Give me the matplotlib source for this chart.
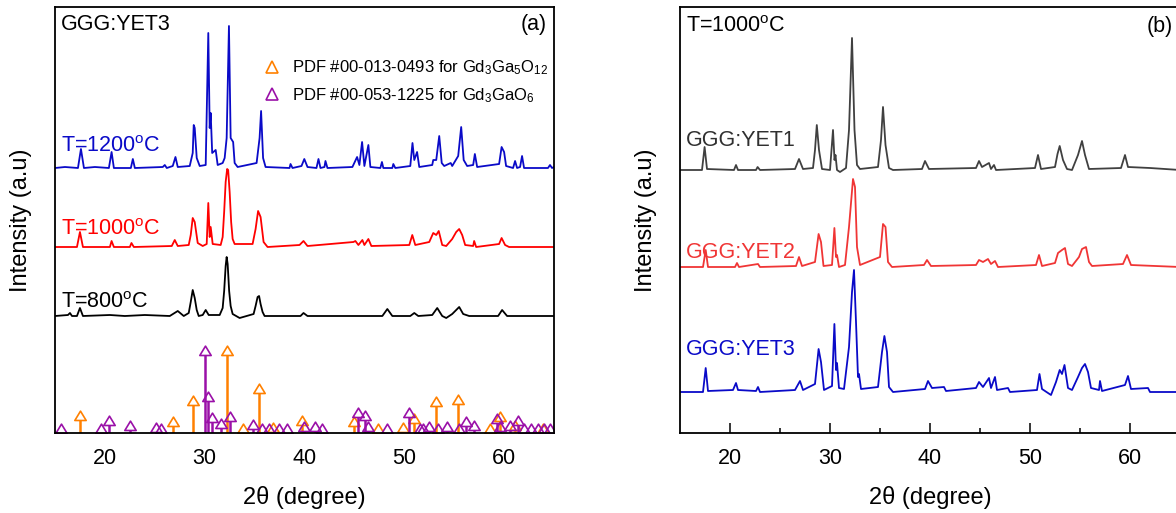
import numpy as np
import matplotlib
matplotlib.use("Agg")
import matplotlib.pyplot as plt
from matplotlib.path import Path
from matplotlib.lines import Line2D

plt.rcParams['font.family'] = ['Liberation Sans', 'DejaVu Sans']
plt.rcParams['mathtext.fontset'] = 'custom'
plt.rcParams['mathtext.rm'] = 'Liberation Sans'
plt.rcParams['mathtext.it'] = 'Liberation Sans:italic'

# ---- panel (a): GGG:YET3 at three temperatures (intensity above each baseline) ----
t1200_x = [15.0, 16.0, 17.3, 17.6, 17.9, 19.0, 20.4, 20.67, 20.9, 22.6, 22.8, 23.0, 25.8, 26.0, 26.2,
           26.8, 27.07, 27.3, 28.5, 28.8, 28.9, 29.0, 29.2, 29.5, 30.1, 30.36, 30.5, 30.6, 30.75, 31.1,
           31.3, 31.8, 32.0, 32.2, 32.43, 32.6, 32.85, 33.0, 33.3, 35.2, 35.5, 35.65, 35.85, 36.1, 38.5,
           38.6, 38.8, 39.7, 39.98, 40.3, 41.2, 41.4, 41.6, 42.0, 42.1, 42.3, 44.8, 45.27, 45.5, 45.77,
           46.0, 46.4, 46.6, 47.6, 47.76, 47.9, 48.8, 48.9, 49.1, 50.6, 50.82, 51.0, 51.28, 51.5, 52.8,
           52.9, 53.2, 53.5, 53.75, 54.0, 54.65, 54.8, 55.4, 55.7, 55.95, 56.3, 56.9, 57.07, 57.3, 59.5,
           59.75, 60.0, 60.2, 60.9, 61.1, 61.3, 61.6, 61.8, 62.0, 64.4, 64.6, 64.8, 65.0]
t1200_y = [0, 1, 0, 19, 0, 1, 0, 16, 0, 0, 9, 0, 1, 3, 0,
           2, 11, 1, 2, 15, 43, 40, 10, 2, 3, 135, 40, 55, 15, 18,
           3, 5, 10, 30, 142, 30, 26, 5, 1, 5, 30, 57, 10, 1, 0,
           4, 0, 2, 9, 1, 0, 9, 0, 1, 7, 0, 1, 11, 3, 26,
           2, 23, 1, 0, 6, 0, 0, 4, 0, 2, 25, 8, 16, 1, 3,
           8, 8, 32, 5, 2, 5, 2, 12, 41, 8, 2, 3, 14, 1, 4,
           21, 16, 2, 0, 7, 0, 1, 12, 0, 0, 3, 0, 1]

t1000_x = [15.0, 17.2, 17.5, 17.8, 20.5, 20.67, 20.9, 22.5, 22.66, 22.9, 26.7, 27.0, 27.3, 28.4, 28.6,
           28.8, 29.0, 29.3, 29.8, 30.2, 30.36, 30.5, 30.6, 30.8, 31.6, 31.8, 31.95, 32.1, 32.25, 32.35,
           32.5, 32.65, 32.8, 33.0, 34.8, 35.1, 35.35, 35.6, 35.9, 36.3, 39.5, 39.9, 40.3, 44.9, 45.1,
           45.4, 45.8, 46.0, 46.4, 46.7, 50.5, 50.8, 51.1, 52.5, 52.9, 53.2, 53.45, 53.8, 54.2, 54.8,
           55.2, 55.5, 55.8, 56.1, 56.9, 57.0, 57.2, 59.5, 59.75, 60.1, 60.5, 65.0]
t1000_y = [0, 0, 15, 0, 0, 6, 0, 0, 4, 0, 1, 7, 1, 2, 12,
           29, 25, 4, 1, 3, 44, 10, 20, 3, 2, 10, 35, 65, 78, 77,
           55, 25, 8, 3, 3, 18, 36, 30, 5, 0, 2, 6, 1, 5, 6,
           2, 7, 2, 8, 1, 2, 12, 2, 5, 14, 12, 16, 2, 1, 8,
           15, 18, 12, 2, 1, 6, 0, 3, 9, 2, 0, 0]

t800_x = [15.0, 16.3, 16.5, 16.7, 17.2, 17.5, 17.8, 20.5, 22.0, 24.0, 26.5, 27.3, 27.9, 28.4, 28.6,
          28.8, 29.0, 29.2, 29.4, 29.8, 30.1, 30.4, 31.5, 31.8, 31.95, 32.1, 32.2, 32.3, 32.45, 32.6,
          32.8, 33.5, 34.9, 35.1, 35.3, 35.45, 35.6, 35.8, 36.0, 39.6, 39.9, 40.3, 47.8, 48.3, 48.8,
          50.6, 51.0, 51.4, 52.8, 53.3, 53.8, 54.2, 54.8, 55.3, 55.5, 55.9, 56.5, 59.4, 59.8, 60.3,
          65.0]
t800_y = [0, 1, 3, 0, 0, 8, 0, 1, 0, 1, 0, 5, 0, 3, 14,
          26, 18, 6, 0, 1, 6, 1, 1, 8, 25, 50, 59, 52, 25, 10,
          2, -2, 2, 10, 19, 20, 12, 4, 0, 0, 3, 0, 0, 7, 0,
          0, 3, 0, 1, 8, 0, -2, 2, 7, 9, 2, 0, 0, 6, 0,
          0]

# reference patterns (stick positions, stick heights)
ggg_pos = [17.5, 26.8, 28.8, 32.25, 33.85, 35.4, 36.8, 39.7, 45.0, 47.4, 49.9, 51.0, 53.2, 55.4,
           58.6, 59.6, 61.1, 63.85]
ggg_h = [13, 7, 28, 78, 0, 40, 1, 8, 7, 0, 1, 10, 27, 29.5, 0, 12, 3.5, 0]
gdo_pos = [15.6, 19.6, 20.4, 22.5, 25.15, 25.6, 30.06, 30.36, 30.75, 31.6, 32.5, 34.85, 35.7, 36.4,
           37.4, 38.25, 39.94, 41.05, 41.8, 45.4, 46.1, 46.4, 48.3, 50.44, 51.6, 51.9, 52.5, 53.36,
           54.25, 55.45, 56.2, 57.0, 59.25, 59.6, 60.6, 61.4, 62.0, 62.7, 63.4, 64.0, 64.6]
gdo_h = [0, 0, 8, 3.5, 1, 0, 78, 32, 11, 5.5, 12, 4, 0, 0,
         0, 0, 2.5, 2, 0, 16, 13.5, 2, 0, 16, 0, 0, 2, 0,
         2, 0, 7, 3.5, 10, 2, 3, 8, 0, 0, 0, 0, 0]

# ---- panel (b): three samples at 1000 C ----
yet1_x = [15.0, 17.2, 17.46, 17.7, 20.4, 20.6, 20.8, 22.6, 22.76, 23.0, 26.5, 26.9, 27.3, 28.3, 28.5,
          28.68, 28.9, 29.2, 30.0, 30.3, 30.45, 30.55, 30.7, 31.0, 31.6, 31.9, 32.2, 32.45, 32.7, 33.0,
          34.8, 35.1, 35.3, 35.55, 35.9, 36.3, 39.2, 39.5, 39.9, 44.6, 44.9, 45.2, 45.9, 46.1, 46.4,
          46.6, 50.5, 50.8, 51.1, 52.5, 52.75, 52.97, 53.3, 53.7, 54.2, 54.8, 55.2, 55.5, 55.9, 59.1,
          59.5, 59.8, 62.0, 65.0]
yet1_y = [0, 0, 23, 1, 0, 5, 0, 0, 3, 0, 1, 11, 1, 2, 20,
          45, 20, 1, 0, 40, 10, 15, 0, -2, 2, 40, 132, 40, 5, 1,
          3, 30, 63, 25, 2, 0, 1, 9, 1, 2, 9, 3, 7, 1, 5,
          0, 2, 15, 1, 3, 16, 24, 10, 1, 0, 15, 29, 15, 1, 2,
          15, 3, 2, 0]

yet2_x = [15.0, 17.3, 17.57, 17.8, 20.5, 20.7, 20.9, 22.8, 23.0, 26.6, 26.9, 27.2, 28.5, 28.86, 29.1,
          29.35, 30.2, 30.44, 30.6, 30.7, 30.9, 31.5, 31.9, 32.3, 32.5, 32.7, 33.0, 35.0, 35.3, 35.55,
          35.8, 36.2, 39.4, 39.7, 40.1, 44.6, 44.9, 45.3, 45.8, 46.1, 46.5, 46.8, 50.6, 50.9, 51.2,
          52.5, 52.8, 53.2, 53.5, 53.8, 54.2, 54.9, 55.2, 55.6, 55.9, 56.2, 59.3, 59.7, 60.1, 65.0]
yet2_y = [0, 0, 17, 0, 0, 4, 0, 3, 0, 1, 10, 1, 5, 33, 25,
          1, 2, 39, 10, 12, 0, 2, 40, 88, 80, 20, 2, 10, 43, 40,
          5, 0, 2, 7, 1, 2, 7, 5, 8, 3, 6, 0, 2, 12, 1,
          4, 14, 17, 19, 3, 1, 10, 18, 20, 5, 1, 3, 12, 2, 0]

yet3_x = [15.0, 17.3, 17.57, 17.8, 20.3, 20.6, 20.8, 22.6, 22.8, 23.0, 26.5, 27.0, 27.3, 28.5, 28.86,
          29.1, 29.4, 30.2, 30.44, 30.6, 30.7, 30.9, 31.4, 31.9, 32.2, 32.4, 32.6, 32.8, 32.9, 33.1,
          34.8, 35.2, 35.44, 35.7, 35.9, 36.3, 39.5, 39.8, 40.2, 41.4, 41.6, 44.6, 44.9, 45.3, 45.9,
          46.1, 46.5, 46.7, 47.8, 48.0, 50.7, 50.95, 51.2, 52.1, 52.6, 52.97, 53.2, 53.45, 53.8, 54.2,
          54.8, 55.2, 55.5, 55.8, 56.1, 56.9, 57.0, 57.2, 59.5, 59.8, 60.1, 61.8, 62.0, 65.0]
yet3_y = [0, 0, 24, 1, 2, 9, 2, 1, 5, 0, 2, 11, 2, 8, 43,
          30, 2, 6, 68, 22, 29, 4, 3, 45, 100, 122, 70, 15, 18, 3,
          5, 40, 56, 40, 5, 0, 3, 11, 4, 5, 1, 4, 10, 5, 14,
          4, 15, 2, 4, 0, 2, 18, 3, -3, 10, 22, 18, 27, 4, 2,
          15, 24, 28, 20, 4, 2, 11, 1, 7, 16, 3, 4, 0, 0]

xticks = [20, 30, 40, 50, 60]

orange = '#ff8000'
purple = '#9a10a8'

fig = plt.figure(figsize=(11.76, 5.13), dpi=100)
ax1 = fig.add_axes([55 / 1176, 80 / 513, 499 / 1176, 426 / 513])
ax2 = fig.add_axes([680 / 1176, 80 / 513, 500 / 1176, 426 / 513])

# open triangle sitting on top of its stick
tri = Path([(-1, 0), (1, 0), (0, 1.65), (-1, 0)],
           [Path.MOVETO, Path.LINETO, Path.LINETO, Path.CLOSEPOLY])

# panel (a)
ax1.plot(t1200_x, np.array(t1200_y) + 265, color='#0a0ac8', lw=1.3)
ax1.plot(t1000_x, np.array(t1000_y) + 186, color='#ff0000', lw=1.3)
ax1.plot(t800_x, np.array(t800_y) + 117, color='black', lw=1.3)

for pos, h, c in [(ggg_pos, ggg_h, orange), (gdo_pos, gdo_h, purple)]:
    ax1.vlines(pos, 0, h, color=c, lw=1.8)
    ax1.plot(pos, h, ls='none', marker=tri, ms=13.5, mfc='none', mec=c, mew=1.2)

ax1.text(0.012, 0.96, 'GGG:YET3', transform=ax1.transAxes, fontsize=15.5, va='center')
ax1.text(0.985, 0.96, '(a)', transform=ax1.transAxes, fontsize=15.5, va='center', ha='right')
ax1.text(0.012, 0.672, 'T=1200$^{\\mathrm{o}}$C', transform=ax1.transAxes, fontsize=15.5,
         va='center', color='#0a0ac8')
ax1.text(0.012, 0.477, 'T=1000$^{\\mathrm{o}}$C', transform=ax1.transAxes, fontsize=15.5,
         va='center', color='#ff0000')
ax1.text(0.012, 0.307, 'T=800$^{\\mathrm{o}}$C', transform=ax1.transAxes, fontsize=15.5,
         va='center', color='black')

handles = [Line2D([], [], ls='none', marker='^', ms=9, mfc='none', mec=orange, mew=1.2),
           Line2D([], [], ls='none', marker='^', ms=9, mfc='none', mec=purple, mew=1.2)]
labels = ['PDF #00-013-0493 for Gd$_3$Ga$_5$O$_{12}$', 'PDF #00-053-1225 for Gd$_3$GaO$_6$']
ax1.legend(handles, labels, loc='upper right', bbox_to_anchor=(1.002, 0.895), frameon=False,
           fontsize=12, handlelength=1.0, handletextpad=0.7, labelspacing=0.55, borderaxespad=0)

# panel (b)
ax2.plot(yet1_x, np.array(yet1_y) + 263, color='#404040', lw=1.3)
ax2.plot(yet2_x, np.array(yet2_y) + 166, color='#f03535', lw=1.3)
ax2.plot(yet3_x, np.array(yet3_y) + 41, color='#0a0ac8', lw=1.3)

ax2.text(0.012, 0.955, 'T=1000$^{\\mathrm{o}}$C', transform=ax2.transAxes, fontsize=15.5, va='center')
ax2.text(0.985, 0.955, '(b)', transform=ax2.transAxes, fontsize=15.5, va='center', ha='right')
ax2.text(0.012, 0.686, 'GGG:YET1', transform=ax2.transAxes, fontsize=15.5, va='center', color='#303030')
ax2.text(0.012, 0.424, 'GGG:YET2', transform=ax2.transAxes, fontsize=15.5, va='center', color='#f03535')
ax2.text(0.012, 0.195, 'GGG:YET3', transform=ax2.transAxes, fontsize=15.5, va='center', color='#0a0ac8')

for ax in (ax1, ax2):
    ax.set_xlim(15, 65)
    ax.set_ylim(0, 426)
    ax.set_xticks(xticks)
    ax.set_yticks([])
    ax.tick_params(axis='x', labelsize=15.5, direction='in', length=7, width=1.1, pad=11)
    for s in ax.spines.values():
        s.set_linewidth(1.3)
    ax.set_xlabel('2\u03b8 (degree)', fontsize=17, labelpad=12)
    ax.set_ylabel('Intensity (a.u)', fontsize=17)
    ax.yaxis.set_label_coords(-0.046, 0.5)

ax1.tick_params(axis='x', length=0)
ax2.set_xticks([25, 35, 45, 55, 65], minor=True)
ax2.tick_params(axis='x', which='minor', direction='in', length=3.5, width=1.1)

fig.savefig('out.png', dpi=100)
